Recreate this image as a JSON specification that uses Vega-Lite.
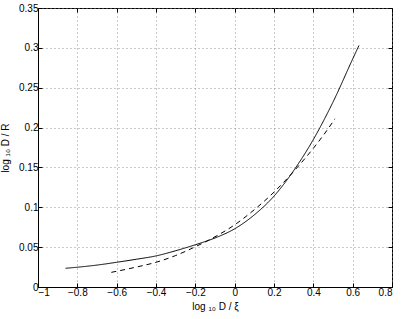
{
  "$schema": "https://vega.github.io/schema/vega-lite/v6.json",
  "width": 354,
  "height": 279,
  "autosize": "none",
  "padding": {"left": 38, "top": 8, "right": 10, "bottom": 32},
  "background": "white",
  "config": {
    "view": {"stroke": "black", "strokeWidth": 1},
    "font": "Liberation Sans",
    "axis": {
      "labelFont": "Liberation Sans",
      "titleFont": "Liberation Sans",
      "labelFontSize": 10,
      "titleFontSize": 10,
      "titleFontWeight": "normal",
      "labelColor": "black",
      "titleColor": "black",
      "domainColor": "black",
      "tickColor": "black",
      "gridColor": "#888888",
      "gridDash": [1, 3],
      "gridOpacity": 0.9,
      "tickSize": -4,
      "labelPadding": 4
    }
  },
  "datasets": {
    "curves": [
      {"x": -0.86, "y": 0.0235, "series": "solid"},
      {"x": -0.8, "y": 0.0248, "series": "solid"},
      {"x": -0.7, "y": 0.0275, "series": "solid"},
      {"x": -0.6, "y": 0.031, "series": "solid"},
      {"x": -0.5, "y": 0.0348, "series": "solid"},
      {"x": -0.4, "y": 0.039, "series": "solid"},
      {"x": -0.3, "y": 0.0455, "series": "solid"},
      {"x": -0.2, "y": 0.053, "series": "solid"},
      {"x": -0.1, "y": 0.0615, "series": "solid"},
      {"x": 0.0, "y": 0.073, "series": "solid"},
      {"x": 0.1, "y": 0.0905, "series": "solid"},
      {"x": 0.2, "y": 0.114, "series": "solid"},
      {"x": 0.3, "y": 0.146, "series": "solid"},
      {"x": 0.4, "y": 0.185, "series": "solid"},
      {"x": 0.5, "y": 0.232, "series": "solid"},
      {"x": 0.6, "y": 0.286, "series": "solid"},
      {"x": 0.632, "y": 0.303, "series": "solid"},
      {"x": -0.627, "y": 0.0184, "series": "dashed"},
      {"x": -0.5, "y": 0.025, "series": "dashed"},
      {"x": -0.4, "y": 0.031, "series": "dashed"},
      {"x": -0.3, "y": 0.0395, "series": "dashed"},
      {"x": -0.2, "y": 0.0505, "series": "dashed"},
      {"x": -0.1, "y": 0.063, "series": "dashed"},
      {"x": 0.0, "y": 0.078, "series": "dashed"},
      {"x": 0.1, "y": 0.097, "series": "dashed"},
      {"x": 0.2, "y": 0.119, "series": "dashed"},
      {"x": 0.3, "y": 0.145, "series": "dashed"},
      {"x": 0.4, "y": 0.174, "series": "dashed"},
      {"x": 0.45, "y": 0.19, "series": "dashed"},
      {"x": 0.51, "y": 0.211, "series": "dashed"}
    ]
  },
  "data": {"name": "curves"},
  "layer": [
    {
      "mark": {"type": "line", "color": "black", "strokeWidth": 1, "interpolate": "monotone"},
      "encoding": {
        "x": {
          "field": "x", "type": "quantitative",
          "scale": {"domain": [-1, 0.8], "nice": false, "zero": false},
          "axis": {"values": [-1, -0.8, -0.6, -0.4, -0.2, 0, 0.2, 0.4, 0.6, 0.8], "format": "~g", "title": "log ₁₀ D / ξ", "titlePadding": 4}
        },
        "y": {
          "field": "y", "type": "quantitative",
          "scale": {"domain": [0, 0.35], "nice": false, "zero": false},
          "axis": {"values": [0, 0.05, 0.1, 0.15, 0.2, 0.25, 0.3, 0.35], "format": "~g", "title": "log ₁₀ D / R", "titlePadding": 8}
        },
        "detail": {"field": "series"},
        "strokeDash": {
          "field": "series", "type": "nominal",
          "scale": {"domain": ["solid", "dashed"], "range": [[1, 0], [5, 4]]},
          "legend": null
        }
      }
    },
    {
      "mark": {"type": "line", "opacity": 0},
      "encoding": {
        "x": {
          "field": "x", "type": "quantitative",
          "axis": {"orient": "top", "values": [-1, -0.8, -0.6, -0.4, -0.2, 0, 0.2, 0.4, 0.6, 0.8], "labels": false, "grid": false, "domain": false, "title": null}
        },
        "y": {
          "field": "y", "type": "quantitative",
          "axis": {"orient": "right", "values": [0, 0.05, 0.1, 0.15, 0.2, 0.25, 0.3, 0.35], "labels": false, "grid": false, "domain": false, "title": null}
        },
        "detail": {"field": "series"}
      }
    }
  ],
  "resolve": {"axis": {"x": "independent", "y": "independent"}}
}
